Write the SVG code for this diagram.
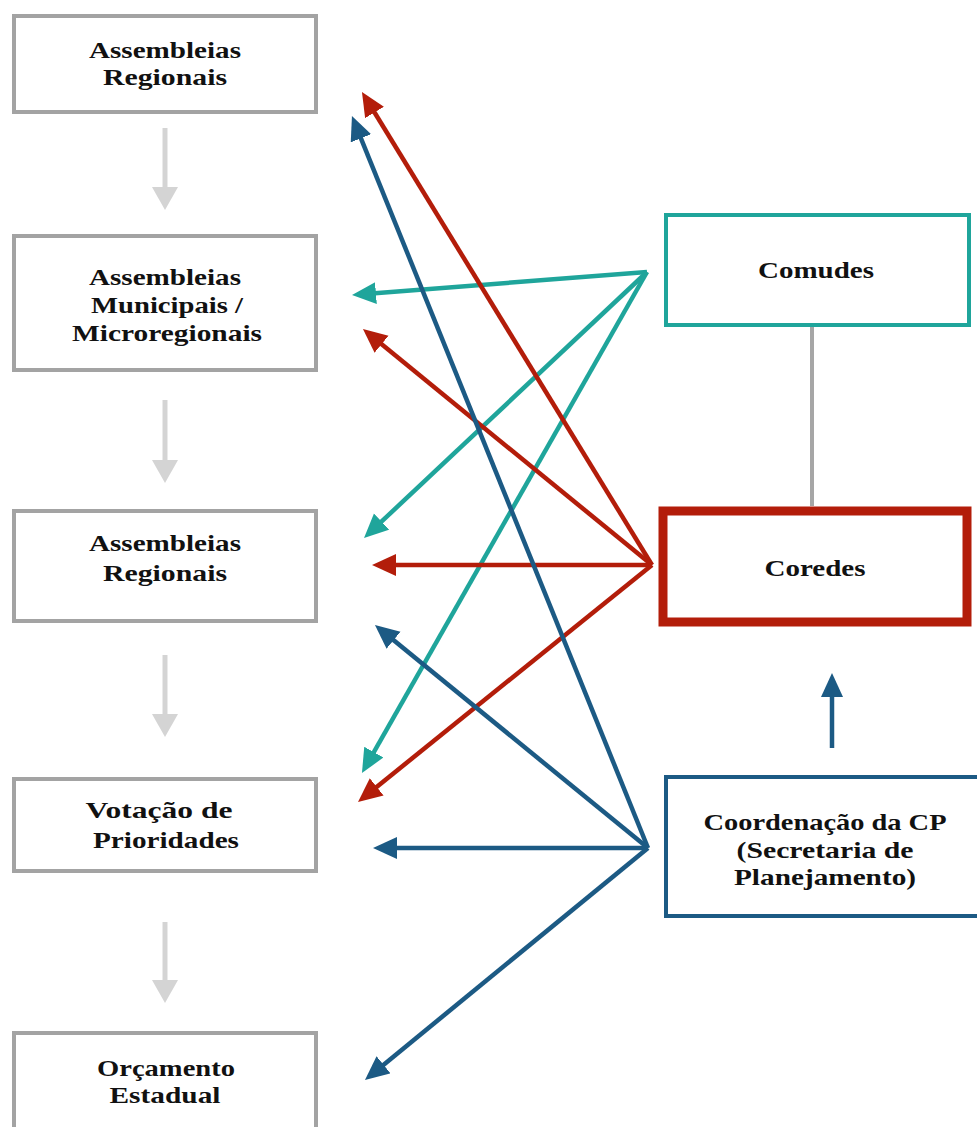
<svg xmlns="http://www.w3.org/2000/svg" width="977" height="1127" viewBox="0 0 977 1127">
<style>
.box{fill:#fff;stroke:#a3a3a3;stroke-width:4}
.t{font-family:"Liberation Serif","Times New Roman",serif;font-weight:bold;font-size:23px;fill:#111;text-anchor:middle}
.teal{stroke:#1fa59b;stroke-width:4.5;fill:none}
.red{stroke:#b31d0a;stroke-width:4.5;fill:none}
.blue{stroke:#1c5a84;stroke-width:4.5;fill:none}
.down{stroke:#d4d4d4;stroke-width:5;fill:none}
</style>
<defs>
<marker id="hT" markerUnits="userSpaceOnUse" markerWidth="26" markerHeight="24" refX="14" refY="11" orient="auto"><path d="M0,0 L24,11 L0,22 z" fill="#1fa59b"/></marker>
<marker id="hR" markerUnits="userSpaceOnUse" markerWidth="26" markerHeight="24" refX="14" refY="11" orient="auto"><path d="M0,0 L24,11 L0,22 z" fill="#b31d0a"/></marker>
<marker id="hB" markerUnits="userSpaceOnUse" markerWidth="26" markerHeight="24" refX="14" refY="11" orient="auto"><path d="M0,0 L24,11 L0,22 z" fill="#1c5a84"/></marker>
<marker id="hG" markerUnits="userSpaceOnUse" markerWidth="26" markerHeight="28" refX="12" refY="13" orient="auto"><path d="M0,0 L23,13 L0,26 z" fill="#d4d4d4"/></marker>
</defs>
<rect width="977" height="1127" fill="#fff"/>
<g id="connectors">
<line class="down" x1="165" y1="128" x2="165" y2="199" marker-end="url(#hG)"/>
<line class="down" x1="165" y1="400" x2="165" y2="472" marker-end="url(#hG)"/>
<line class="down" x1="165" y1="655" x2="165" y2="726" marker-end="url(#hG)"/>
<line class="down" x1="165" y1="922" x2="165" y2="992" marker-end="url(#hG)"/>
<line x1="812" y1="327" x2="812" y2="506" stroke="#a6a6a6" stroke-width="4"/>
<line class="blue" x1="832" y1="748" x2="832" y2="683" marker-end="url(#hB)"/>
<line class="teal" x1="647" y1="272" x2="362" y2="294.2" marker-end="url(#hT)"/>
<line class="teal" x1="647" y1="272" x2="371.3" y2="531.2" marker-end="url(#hT)"/>
<line class="teal" x1="647" y1="272" x2="366.9" y2="764.3" marker-end="url(#hT)"/>
<line class="red" x1="652" y1="565" x2="367.2" y2="100.5" marker-end="url(#hR)"/>
<line class="red" x1="652" y1="565" x2="370.7" y2="335.3" marker-end="url(#hR)"/>
<line class="red" x1="652" y1="565" x2="382" y2="565" marker-end="url(#hR)"/>
<line class="red" x1="652" y1="565" x2="365.8" y2="795.7" marker-end="url(#hR)"/>
<line class="blue" x1="648" y1="848" x2="355.7" y2="125.3" marker-end="url(#hB)"/>
<line class="blue" x1="648" y1="848" x2="382.7" y2="631.3" marker-end="url(#hB)"/>
<line class="blue" x1="648" y1="848" x2="383" y2="848" marker-end="url(#hB)"/>
<line class="blue" x1="648" y1="848" x2="372.7" y2="1073.7" marker-end="url(#hB)"/>
</g>
<g id="n-assembleias-regionais-1">
<rect class="box" x="14" y="16" width="302" height="96"/>
<text class="t" x="165" y="58" textLength="152" lengthAdjust="spacingAndGlyphs">Assembleias</text>
<text class="t" x="165" y="85" textLength="124" lengthAdjust="spacingAndGlyphs">Regionais</text>
</g>
<g id="n-assembleias-municipais">
<rect class="box" x="14" y="236" width="302" height="134"/>
<text class="t" x="165" y="285" textLength="152" lengthAdjust="spacingAndGlyphs">Assembleias</text>
<text class="t" x="167" y="313" textLength="152" lengthAdjust="spacingAndGlyphs">Municipais /</text>
<text class="t" x="167" y="341" textLength="190" lengthAdjust="spacingAndGlyphs">Microregionais</text>
</g>
<g id="n-assembleias-regionais-2">
<rect class="box" x="14" y="511" width="302" height="110"/>
<text class="t" x="165" y="551" textLength="152" lengthAdjust="spacingAndGlyphs">Assembleias</text>
<text class="t" x="165" y="581" textLength="124" lengthAdjust="spacingAndGlyphs">Regionais</text>
</g>
<g id="n-votacao">
<rect class="box" x="14" y="779" width="302" height="92"/>
<text class="t" x="159" y="818" textLength="147" lengthAdjust="spacingAndGlyphs">Votação de</text>
<text class="t" x="166" y="848" textLength="146" lengthAdjust="spacingAndGlyphs">Prioridades</text>
</g>
<g id="n-orcamento">
<rect class="box" x="14" y="1033" width="302" height="120"/>
<text class="t" x="166" y="1076" textLength="138" lengthAdjust="spacingAndGlyphs">Orçamento</text>
<text class="t" x="165" y="1103" textLength="111" lengthAdjust="spacingAndGlyphs">Estadual</text>
</g>
<g id="n-comudes">
<rect x="666" y="215" width="303" height="110" fill="#fff" stroke="#1fa59b" stroke-width="4"/>
<text class="t" x="816" y="278" textLength="116" lengthAdjust="spacingAndGlyphs">Comudes</text>
</g>
<g id="n-coredes">
<rect x="663" y="511" width="304" height="111" fill="#fff" stroke="#b31d0a" stroke-width="9"/>
<text class="t" x="815" y="576" textLength="101" lengthAdjust="spacingAndGlyphs">Coredes</text>
</g>
<g id="n-coordenacao">
<rect x="666" y="777" width="320" height="139" fill="#fff" stroke="#1c5a84" stroke-width="4"/>
<text class="t" x="825" y="830" textLength="243" lengthAdjust="spacingAndGlyphs">Coordenação da CP</text>
<text class="t" x="825" y="858" textLength="177" lengthAdjust="spacingAndGlyphs">(Secretaria de</text>
<text class="t" x="825" y="885" textLength="182" lengthAdjust="spacingAndGlyphs">Planejamento)</text>
</g>
</svg>
